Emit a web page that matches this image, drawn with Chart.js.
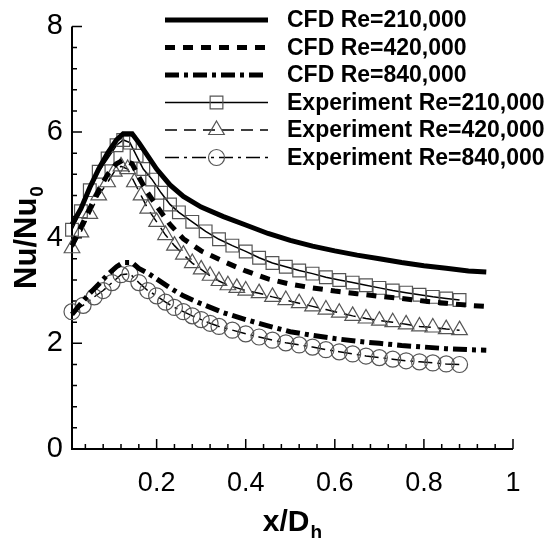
<!DOCTYPE html>
<html>
<head>
<meta charset="utf-8">
<script src="https://cdn.jsdelivr.net/npm/chart.js@4.4.0/dist/chart.umd.min.js"></script>
<style>
  html, body { margin: 0; padding: 0; background: #fff; }
  #wrap { width: 554px; height: 546px; }
</style>
</head>
<body>
<div id="wrap"><canvas id="chart" width="554" height="546"></canvas></div>
<script>
// axis ticks
const xTickValues = [0.2, 0.4, 0.6, 0.8, 1];
const xTickLabels = ['0.2', '0.4', '0.6', '0.8', '1'];
const yTickValues = [0, 2, 4, 6, 8];
const yTickLabels = ['0', '2', '4', '6', '8'];

// CFD curves (shared x)
const cfdX   = [0.01, 0.03, 0.05, 0.07, 0.09, 0.11, 0.125, 0.145, 0.16, 0.18, 0.2, 0.23, 0.26, 0.3, 0.35, 0.4, 0.45, 0.5, 0.55, 0.6, 0.65, 0.7, 0.75, 0.8, 0.85, 0.9, 0.94];
const cfd210 = [4.25, 4.55, 4.95, 5.3, 5.6, 5.85, 5.97, 5.97, 5.8, 5.55, 5.3, 5.0, 4.78, 4.58, 4.4, 4.24, 4.08, 3.95, 3.84, 3.75, 3.67, 3.6, 3.53, 3.47, 3.42, 3.37, 3.35];
const cfd420 = [3.85, 4.2, 4.55, 4.9, 5.2, 5.4, 5.47, 5.4, 5.15, 4.85, 4.6, 4.25, 3.98, 3.75, 3.55, 3.37, 3.22, 3.12, 3.05, 2.99, 2.94, 2.89, 2.85, 2.8, 2.76, 2.72, 2.7];
const cfd840 = [2.55, 2.75, 2.95, 3.12, 3.3, 3.45, 3.53, 3.53, 3.42, 3.33, 3.22, 3.05, 2.9, 2.75, 2.58, 2.45, 2.33, 2.22, 2.15, 2.09, 2.04, 2.0, 1.96, 1.93, 1.9, 1.88, 1.87];

// experiments
const exp210X = [0.01, 0.03, 0.05, 0.07, 0.09, 0.11, 0.125, 0.14, 0.155, 0.17, 0.19, 0.21, 0.23, 0.25, 0.28, 0.31, 0.34, 0.37, 0.40, 0.43, 0.46, 0.49, 0.52, 0.55, 0.58, 0.61, 0.64, 0.67, 0.70, 0.73, 0.76, 0.79, 0.82, 0.85, 0.88];
const exp210  = [4.15, 4.5, 4.9, 5.25, 5.5, 5.75, 5.85, 5.8, 5.55, 5.3, 5.1, 4.85, 4.63, 4.48, 4.3, 4.12, 3.97, 3.85, 3.74, 3.62, 3.52, 3.45, 3.38, 3.32, 3.25, 3.2, 3.15, 3.1, 3.05, 3.0, 2.96, 2.92, 2.88, 2.85, 2.82];
const exp420X = [0.01, 0.03, 0.05, 0.07, 0.09, 0.105, 0.12, 0.135, 0.15, 0.165, 0.18, 0.2, 0.22, 0.24, 0.26, 0.28, 0.3, 0.32, 0.34, 0.36, 0.38, 0.4, 0.43, 0.46, 0.49, 0.52, 0.55, 0.58, 0.61, 0.64, 0.67, 0.7, 0.73, 0.76, 0.79, 0.82, 0.85, 0.88];
const exp420  = [3.8, 4.1, 4.45, 4.8, 5.05, 5.25, 5.35, 5.3, 5.05, 4.8, 4.55, 4.3, 4.05, 3.85, 3.68, 3.52, 3.4, 3.28, 3.18, 3.1, 3.05, 3.0, 2.95, 2.88, 2.82, 2.76, 2.7, 2.64, 2.58, 2.52, 2.47, 2.43, 2.4, 2.36, 2.32, 2.3, 2.27, 2.25];
const exp840X = [0.01, 0.035, 0.06, 0.08, 0.1, 0.12, 0.14, 0.16, 0.18, 0.2, 0.22, 0.24, 0.26, 0.28, 0.3, 0.32, 0.34, 0.37, 0.4, 0.43, 0.46, 0.49, 0.52, 0.55, 0.58, 0.61, 0.64, 0.67, 0.7, 0.73, 0.76, 0.79, 0.82, 0.85, 0.88];
const exp840  = [2.6, 2.72, 2.88, 3.0, 3.15, 3.3, 3.32, 3.15, 3.0, 2.9, 2.78, 2.68, 2.6, 2.52, 2.45, 2.38, 2.32, 2.25, 2.18, 2.12, 2.06, 2.01, 1.97, 1.93, 1.88, 1.84, 1.8, 1.76, 1.73, 1.7, 1.67, 1.65, 1.63, 1.61, 1.6];

const FONT = "'Liberation Sans', Arial, sans-serif";
const markerGrey = '#555';

function pts(xs, ys) {
  return xs.map((x, i) => ({ x: x, y: ys[i] }));
}

function lineSet(label, xs, ys, width, dash) {
  return {
    label: label, data: pts(xs, ys),
    borderColor: '#000', borderWidth: width, borderDash: dash,
    pointRadius: 0, tension: 0, fill: false, clip: false
  };
}

function expSet(label, xs, ys, dash, style, radius) {
  return {
    label: label, data: pts(xs, ys),
    borderColor: '#000', borderWidth: 1.5, borderDash: dash,
    pointStyle: style, pointRadius: radius, pointBorderColor: markerGrey,
    pointBackgroundColor: 'rgba(0,0,0,0)', pointBorderWidth: 1.2,
    tension: 0, fill: false, clip: false
  };
}

// inward ticks and the two axis lines
const axisPlugin = {
  id: 'axisPlugin',
  beforeDatasetsDraw(chart) {
    const { ctx, chartArea: a, scales: { x, y } } = chart;
    ctx.save();
    ctx.strokeStyle = '#000';
    ctx.lineWidth = 1.5;
    ctx.beginPath();
    for (let i = 1; i <= 25; i++) {
      const px = x.getPixelForValue(i * 0.04);
      const len = i % 5 === 0 ? 10 : 5;
      ctx.moveTo(px, a.bottom);
      ctx.lineTo(px, a.bottom - len);
    }
    for (let i = 1; i <= 20; i++) {
      const py = y.getPixelForValue(i * 0.4);
      const len = i % 5 === 0 ? 10 : 5;
      ctx.moveTo(a.left, py);
      ctx.lineTo(a.left + len, py);
    }
    ctx.stroke();
    ctx.lineWidth = 2;
    ctx.beginPath();
    ctx.moveTo(a.left, a.top);
    ctx.lineTo(a.left, a.bottom);
    ctx.lineTo(a.right, a.bottom);
    ctx.stroke();
    ctx.restore();
  }
};

// axis titles with subscripts
function subText(ctx, main, sub, size, subSize, drop) {
  ctx.font = 'bold ' + size + 'px ' + FONT;
  const w1 = ctx.measureText(main).width;
  ctx.font = 'bold ' + subSize + 'px ' + FONT;
  const w2 = ctx.measureText(sub).width;
  const x0 = -(w1 + w2) / 2;
  const base = size * 0.36;
  ctx.font = 'bold ' + size + 'px ' + FONT;
  ctx.fillText(main, x0, base);
  ctx.font = 'bold ' + subSize + 'px ' + FONT;
  ctx.fillText(sub, x0 + w1 + 1, base + drop);
}

const titlePlugin = {
  id: 'titlePlugin',
  afterDraw(chart) {
    const ctx = chart.ctx;
    ctx.save();
    ctx.fillStyle = '#000';
    ctx.textBaseline = 'alphabetic';
    ctx.textAlign = 'left';
    ctx.translate(292, 520);
    subText(ctx, 'x/D', 'h', 30, 19, 7);
    ctx.restore();
    ctx.save();
    ctx.fillStyle = '#000';
    ctx.textBaseline = 'alphabetic';
    ctx.textAlign = 'left';
    ctx.translate(25, 238);
    ctx.rotate(-Math.PI / 2);
    subText(ctx, 'Nu/Nu', '0', 31, 19, 7);
    ctx.restore();
  }
};

// legend in the top right, drawn from the datasets
const legendRows = [20, 47.5, 75, 102.5, 130, 157.5];
const legendPlugin = {
  id: 'legendPlugin',
  afterDraw(chart) {
    const ctx = chart.ctx;
    const x0 = 165, x1 = 268, tx = 287;
    chart.data.datasets.forEach((ds, i) => {
      const yy = legendRows[i];
      ctx.save();
      ctx.strokeStyle = ds.borderColor;
      ctx.lineWidth = ds.borderWidth;
      ctx.setLineDash(ds.borderDash || []);
      ctx.beginPath();
      ctx.moveTo(x0, yy);
      ctx.lineTo(x1, yy);
      ctx.stroke();
      ctx.setLineDash([]);
      if (ds.pointRadius > 0) {
        ctx.strokeStyle = ds.pointBorderColor;
        ctx.fillStyle = ds.pointBackgroundColor;
        ctx.lineWidth = ds.pointBorderWidth;
        Chart.helpers.drawPoint(ctx, { pointStyle: ds.pointStyle, radius: ds.pointRadius, rotation: 0, borderWidth: ds.pointBorderWidth }, (x0 + x1) / 2, yy);
      }
      ctx.fillStyle = '#000';
      ctx.font = 'bold 23px ' + FONT;
      ctx.textBaseline = 'middle';
      ctx.textAlign = 'left';
      ctx.fillText(ds.label, tx, yy + 1);
      ctx.restore();
    });
  }
};

new Chart(document.getElementById('chart'), {
  type: 'line',
  data: {
    datasets: [
      lineSet('CFD Re=210,000', cfdX, cfd210, 5, []),
      lineSet('CFD Re=420,000', cfdX, cfd420, 5, [10, 8]),
      lineSet('CFD Re=840,000', cfdX, cfd840, 5, [14, 5, 4, 5]),
      expSet('Experiment Re=210,000', exp210X, exp210, [], 'rect', 9),
      expSet('Experiment Re=420,000', exp420X, exp420, [12, 7], 'triangle', 9),
      expSet('Experiment Re=840,000', exp840X, exp840, [14, 5, 3, 5], 'circle', 8)
    ]
  },
  options: {
    responsive: false,
    animation: false,
    devicePixelRatio: 1,
    layout: { padding: { top: 17, right: 41, left: 0, bottom: 0 } },
    plugins: { legend: { display: false }, tooltip: { enabled: false } },
    scales: {
      x: {
        type: 'linear', min: 0.01, max: 1,
        afterBuildTicks: s => { s.ticks = xTickValues.map(v => ({ value: v })); },
        afterFit: s => { s.height = 97; },
        ticks: {
          callback: v => xTickLabels[xTickValues.indexOf(v)],
          font: { family: FONT, size: 27 }, color: '#000', padding: 18,
          maxRotation: 0, autoSkip: false
        },
        grid: { display: false, drawTicks: false },
        border: { display: false }
      },
      y: {
        type: 'linear', min: 0, max: 8,
        afterBuildTicks: s => { s.ticks = yTickValues.map(v => ({ value: v })); },
        afterFit: s => { s.width = 72; },
        ticks: {
          callback: v => yTickLabels[yTickValues.indexOf(v)],
          font: { family: FONT, size: 29 }, color: '#000', padding: 9
        },
        grid: { display: false, drawTicks: false },
        border: { display: false }
      }
    }
  },
  plugins: [axisPlugin, titlePlugin, legendPlugin]
});
</script>
</body>
</html>
